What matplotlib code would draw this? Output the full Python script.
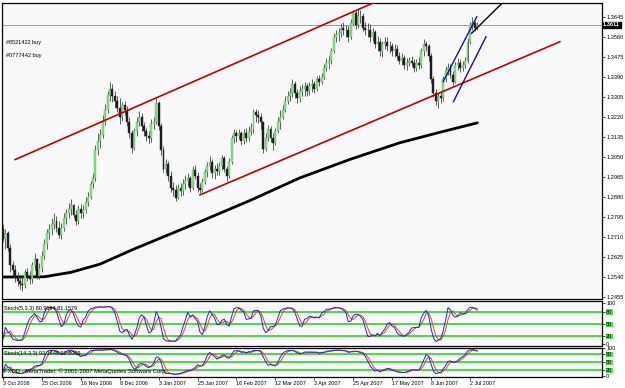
import matplotlib
matplotlib.use('Agg')
import matplotlib.pyplot as plt
import numpy as np
import pandas as pd

# daily EURUSD bars, 3 Oct 2006 .. 6 Jul 2007
first_open = 1.2745
close = [
    1.2700, 1.2725, 1.2665, 1.2590, 1.2570, 1.2535, 1.2525, 1.2510, 1.2505, 1.2560,
    1.2545, 1.2530, 1.2590, 1.2615, 1.2545, 1.2580, 1.2630, 1.2680, 1.2725, 1.2745,
    1.2765, 1.2780, 1.2750, 1.2720, 1.2750, 1.2790, 1.2810, 1.2830, 1.2845, 1.2805,
    1.2780, 1.2830, 1.2810, 1.2825, 1.2860, 1.2880, 1.2935, 1.2960, 1.3080, 1.3120,
    1.3145, 1.3200, 1.3250, 1.3315, 1.3340, 1.3310, 1.3290, 1.3260, 1.3220, 1.3270,
    1.3250, 1.3200, 1.3150, 1.3090, 1.3160, 1.3200, 1.3220, 1.3180, 1.3160, 1.3140,
    1.3130, 1.3190, 1.3200, 1.3280, 1.3180, 1.3080, 1.3000, 1.3020, 1.2970, 1.2920,
    1.2910, 1.2875, 1.2920, 1.2905, 1.2935, 1.2950, 1.2960, 1.2920, 1.2995, 1.2970,
    1.2920, 1.2910, 1.2945, 1.2985, 1.3010, 1.3030, 1.2980, 1.3000, 1.2990, 1.3010,
    1.3045, 1.3000, 1.2970, 1.3030, 1.3130, 1.3150, 1.3140, 1.3150, 1.3120, 1.3150,
    1.3130, 1.3160, 1.3170, 1.3240, 1.3230, 1.3220, 1.3200, 1.3085, 1.3130, 1.3170,
    1.3130, 1.3110, 1.3160, 1.3200, 1.3220, 1.3250, 1.3290, 1.3310, 1.3320, 1.3360,
    1.3320, 1.3300, 1.3330, 1.3340, 1.3350, 1.3330, 1.3350, 1.3360, 1.3340, 1.3380,
    1.3370, 1.3390, 1.3430, 1.3450, 1.3460, 1.3500, 1.3560, 1.3570, 1.3575, 1.3600,
    1.3590, 1.3590, 1.3560, 1.3620, 1.3660, 1.3610, 1.3650, 1.3650, 1.3600, 1.3590,
    1.3590, 1.3560, 1.3580, 1.3530, 1.3540, 1.3500, 1.3530, 1.3540, 1.3520, 1.3520,
    1.3500, 1.3510, 1.3480, 1.3460, 1.3470, 1.3440, 1.3450, 1.3460, 1.3450, 1.3430,
    1.3450, 1.3440, 1.3500, 1.3530, 1.3520, 1.3480, 1.3380, 1.3320, 1.3290, 1.3310,
    1.3300, 1.3380, 1.3420, 1.3430, 1.3400, 1.3370, 1.3440, 1.3450, 1.3430, 1.3440,
    1.3460, 1.3540, 1.3610, 1.3620, 1.3600, 1.3611,
]
high = [
    1.2765, 1.2745, 1.2735, 1.2680, 1.2610, 1.2590, 1.2560, 1.2550, 1.2545, 1.2575,
    1.2580, 1.2565, 1.2605, 1.2640, 1.2620, 1.2600, 1.2650, 1.2700, 1.2745, 1.2765,
    1.2790, 1.2810, 1.2800, 1.2780, 1.2770, 1.2810, 1.2830, 1.2855, 1.2870, 1.2850,
    1.2825, 1.2845, 1.2850, 1.2845, 1.2880, 1.2900, 1.2950, 1.2980, 1.3100, 1.3150,
    1.3170, 1.3230, 1.3275, 1.3330, 1.3367, 1.3360, 1.3330, 1.3310, 1.3300, 1.3285,
    1.3290, 1.3265, 1.3220, 1.3165, 1.3175, 1.3220, 1.3245, 1.3235, 1.3200, 1.3175,
    1.3160, 1.3210, 1.3220, 1.3300, 1.3290, 1.3195, 1.3095, 1.3040, 1.3035, 1.2990,
    1.2945, 1.2930, 1.2935, 1.2940, 1.2955, 1.2975, 1.2980, 1.2970, 1.3010, 1.3015,
    1.2985, 1.2940, 1.2960, 1.3000, 1.3030, 1.3055, 1.3040, 1.3015, 1.3025, 1.3030,
    1.3060, 1.3055, 1.3010, 1.3045, 1.3145, 1.3170, 1.3165, 1.3170, 1.3160, 1.3170,
    1.3175, 1.3180, 1.3195, 1.3255, 1.3255, 1.3250, 1.3235, 1.3200, 1.3150, 1.3185,
    1.3180, 1.3150, 1.3175, 1.3220, 1.3250, 1.3270, 1.3310, 1.3330, 1.3345, 1.3380,
    1.3375, 1.3340, 1.3350, 1.3360, 1.3370, 1.3365, 1.3370, 1.3380, 1.3375, 1.3395,
    1.3400, 1.3405, 1.3445, 1.3470, 1.3480, 1.3515, 1.3575, 1.3590, 1.3600, 1.3620,
    1.3625, 1.3610, 1.3605, 1.3635, 1.3675, 1.3670, 1.3682, 1.3675, 1.3660, 1.3625,
    1.3620, 1.3615, 1.3600, 1.3590, 1.3565, 1.3555, 1.3545, 1.3560, 1.3560, 1.3545,
    1.3535, 1.3530, 1.3525, 1.3495, 1.3490, 1.3485, 1.3470, 1.3475, 1.3480, 1.3465,
    1.3465, 1.3475, 1.3515, 1.3550, 1.3545, 1.3530, 1.3490, 1.3395, 1.3340, 1.3325,
    1.3330, 1.3395, 1.3435, 1.3450, 1.3445, 1.3415, 1.3455, 1.3470, 1.3465, 1.3460,
    1.3475, 1.3555, 1.3625, 1.3645, 1.3630, 1.3625,
]
low = [
    1.2690, 1.2660, 1.2650, 1.2560, 1.2545, 1.2520, 1.2500, 1.2490, 1.2480, 1.2495,
    1.2525, 1.2510, 1.2515, 1.2570, 1.2530, 1.2530, 1.2560, 1.2615, 1.2660, 1.2700,
    1.2720, 1.2745, 1.2730, 1.2705, 1.2700, 1.2735, 1.2765, 1.2790, 1.2805, 1.2790,
    1.2760, 1.2765, 1.2790, 1.2790, 1.2810, 1.2840, 1.2870, 1.2920, 1.2950, 1.3060,
    1.3090, 1.3130, 1.3185, 1.3235, 1.3290, 1.3285, 1.3260, 1.3240, 1.3190, 1.3205,
    1.3230, 1.3180, 1.3130, 1.3065, 1.3080, 1.3140, 1.3180, 1.3160, 1.3140, 1.3120,
    1.3110, 1.3115, 1.3170, 1.3190, 1.3165, 1.3060, 1.2985, 1.2980, 1.2950, 1.2900,
    1.2885, 1.2865, 1.2870, 1.2885, 1.2890, 1.2915, 1.2925, 1.2900, 1.2910, 1.2955,
    1.2900, 1.2895, 1.2900, 1.2935, 1.2965, 1.2995, 1.2960, 1.2955, 1.2975, 1.2975,
    1.2995, 1.2985, 1.2950, 1.2960, 1.3020, 1.3110, 1.3115, 1.3125, 1.3100, 1.3105,
    1.3115, 1.3120, 1.3145, 1.3150, 1.3200, 1.3195, 1.3170, 1.3065, 1.3075, 1.3120,
    1.3115, 1.3080, 1.3100, 1.3150, 1.3170, 1.3210, 1.3240, 1.3275, 1.3290, 1.3305,
    1.3300, 1.3280, 1.3285, 1.3310, 1.3310, 1.3310, 1.3315, 1.3325, 1.3320, 1.3330,
    1.3350, 1.3360, 1.3380, 1.3415, 1.3425, 1.3445, 1.3490, 1.3540, 1.3545, 1.3560,
    1.3570, 1.3560, 1.3540, 1.3550, 1.3610, 1.3595, 1.3600, 1.3620, 1.3585, 1.3570,
    1.3560, 1.3540, 1.3545, 1.3515, 1.3500, 1.3480, 1.3475, 1.3510, 1.3500, 1.3490,
    1.3480, 1.3475, 1.3465, 1.3445, 1.3440, 1.3425, 1.3420, 1.3435, 1.3435, 1.3410,
    1.3415, 1.3425, 1.3430, 1.3480, 1.3500, 1.3460, 1.3365, 1.3305, 1.3270, 1.3260,
    1.3280, 1.3290, 1.3370, 1.3400, 1.3385, 1.3355, 1.3365, 1.3420, 1.3410, 1.3415,
    1.3430, 1.3450, 1.3530, 1.3590, 1.3585, 1.3590,
]

# 200-period moving average (sampled)
ma_bar = [0, 17, 28, 40, 53, 67, 81, 102, 122, 143, 163, 180, 195]
ma_val = [1.2540, 1.2541, 1.2560, 1.2595, 1.2655, 1.2715, 1.2775, 1.2867,
          1.2961, 1.3041, 1.3110, 1.3156, 1.3195]

# trendlines drawn on the chart: (bar, price) endpoints
red_upper = ([5, 170], [1.3039, 1.3785])
red_lower = ([81, 229], [1.2889, 1.3540])
blue_1 = ([181, 194.8], [1.3370, 1.3646])
blue_2 = ([185.2, 198.6], [1.3285, 1.3561])
black_1 = ([192.7, 207], [1.3576, 1.3722])

bid = 1.3611
price_ticks = [1.3645, 1.3560, 1.3475, 1.3390, 1.3305, 1.3220, 1.3135, 1.3050,
               1.2965, 1.2880, 1.2795, 1.2710, 1.2625, 1.2540, 1.2455]
date_bars = [0, 16, 32, 48, 64, 80, 96, 112, 128, 144, 160, 176, 192]
date_labels = ['3 Oct 2006', '25 Oct 2006', '16 Nov 2006', '8 Dec 2006', '3 Jan 2007',
               '25 Jan 2007', '16 Feb 2007', '12 Mar 2007', '3 Apr 2007', '25 Apr 2007',
               '17 May 2007', '8 Jun 2007', '2 Jul 2007']
orders = ['#8521422 buy', '#0777442 buy']

plt.rcParams['font.family'] = 'Liberation Sans'
FS_PRICE = 4.1
FS_DATE = 3.9
FS_SMALL = 4.0

close = np.array(close)
high = np.array(high)
low = np.array(low)
opn = np.r_[first_open, close[:-1]]
bars = np.arange(len(close))


def stoch(kp, sl, dp):
    c, h, l = pd.Series(close), pd.Series(high), pd.Series(low)
    ll = l.rolling(kp, min_periods=1).min()
    hh = h.rolling(kp, min_periods=1).max()
    num = (c - ll).rolling(sl, min_periods=1).sum()
    den = (hh - ll).rolling(sl, min_periods=1).sum()
    main = 100 * num / den
    sig = main.rolling(dp, min_periods=1).mean()
    return main.values, sig.values


fig = plt.figure(figsize=(6.25, 3.88), dpi=100)
fig.patch.set_facecolor('white')
W, H = 625.0, 388.0


def box(x0, y0, x1, y1):
    return [x0 / W, 1 - y1 / H, (x1 - x0) / W, (y1 - y0) / H]


ax = fig.add_axes(box(2, 3, 602, 299))
s1 = fig.add_axes(box(2, 301, 602, 346))
s2 = fig.add_axes(box(2, 347.5, 602, 376.5))

xlim = (-0.4, 246.3)
for a in (ax, s1, s2):
    a.set_facecolor('#f8f8f8')
    a.set_xlim(*xlim)
    for sp in a.spines.values():
        sp.set_color('black')
        sp.set_linewidth(0.9)
    a.yaxis.tick_right()
    a.tick_params(axis='y', length=2, width=0.5, labelsize=FS_PRICE, pad=1)
    a.tick_params(axis='x', length=0)
    a.set_xticks([])

# main chart
ax.set_ylim(1.24465, 1.37045)
ax.axhline(bid, color='#9a9a9a', lw=0.7, zorder=1)
ax.plot(ma_bar, ma_val, color='black', lw=2, zorder=2, solid_capstyle='round')

up = close >= opn
ax.vlines(bars, low, high, color='#404040', lw=0.6, zorder=3)
ax.bar(bars[up], (close - opn)[up], bottom=opn[up], width=0.8,
       color='#8fdc8f', edgecolor='#5fae5f', lw=0.3, zorder=4)
ax.bar(bars[~up], (opn - close)[~up], bottom=close[~up], width=0.8,
       color='#1e1e1e', edgecolor='#1e1e1e', lw=0.3, zorder=4)

ax.plot(*red_upper, color='#c00000', lw=1.2, zorder=5)
ax.plot(*red_lower, color='#c00000', lw=1.2, zorder=5)
ax.plot(*blue_1, color='#1010a0', lw=1.0, zorder=5)
ax.plot(*blue_2, color='#1010a0', lw=1.0, zorder=5)
ax.plot(*black_1, color='black', lw=1.0, zorder=5)

ax.set_yticks(price_ticks)
ax.set_yticklabels([f'{p:.4f}' for p in price_ticks])
ax.text(1.002, bid, f'{bid:.4f}', transform=ax.get_yaxis_transform(), fontsize=FS_PRICE,
        color='white', va='center', ha='left', fontweight='bold',
        bbox=dict(boxstyle='square,pad=0.12', fc='black', ec='black'), clip_on=False)
for k, t in enumerate(orders):
    ax.text(0.006, 0.866 - k * 0.044, t, transform=ax.transAxes, fontsize=FS_SMALL,
            va='center')

# stochastic panels
for a, (kp, sl, dp), lims, title in [
        (s1, (5, 3, 3), (-4, 106), 'Stoch(5,3,3) 80.9594 81.1579'),
        (s2, (14, 3, 3), (-3, 103), 'Stoch(14,3,3) 93.1648 92.8069')]:
    main, sig = stoch(kp, sl, dp)
    a.set_ylim(*lims)
    for lv in (20, 50, 80):
        a.axhline(lv, color='#2ed12e', lw=1.2, zorder=1)
    a.plot(bars, sig, color='#d04848', lw=0.7, zorder=2)
    a.plot(bars, main, color='#2828b0', lw=0.7, zorder=3)
    a.set_yticks([0, 20, 50, 80, 100])
    a.set_yticklabels(['0', '20', '50', '80', '100'])
    for lab in a.get_yticklabels()[1:4]:
        lab.set_bbox(dict(boxstyle='square,pad=0.05', fc='#4ee04e', ec='none'))
    a.text(0.004, 0.83 if a is s1 else 0.78, title, transform=a.transAxes,
           fontsize=FS_SMALL, va='center')

s2.text(0.004, 0.2, 'FXDD - MetaTrader, \u00a9 2001-2007 MetaQuotes Software Corp.',
        transform=s2.transAxes, fontsize=4.2, va='center')

s2.set_xticks(date_bars)
s2.set_xticklabels(date_labels, fontsize=FS_DATE, ha='left')
s2.tick_params(axis='x', length=2, width=0.5, pad=1.5, direction='out')

fig.savefig('out.png', dpi=100)
